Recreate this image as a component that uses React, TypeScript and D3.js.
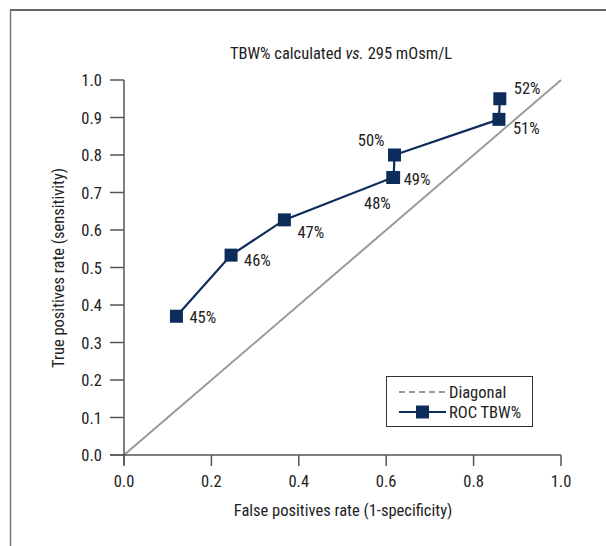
import React from "react";
import * as d3 from "d3";

const fpr = [0.12, 0.245, 0.367, 0.615, 0.617, 0.619, 0.858, 0.86];
const tpr = [0.37, 0.533, 0.627, 0.74, 0.74, 0.8, 0.895, 0.95];
const cutoffs = ["45%", "46%", "47%", "48%", "49%", "50%", "51%", "52%"];
const ticks = [0, 0.1, 0.2, 0.3, 0.4, 0.5, 0.6, 0.7, 0.8, 0.9, 1.0];
const xTicks = [0, 0.2, 0.4, 0.6, 0.8, 1.0];

// label placement offsets (layout only)
const labelOffsets: [number, number, string][] = [
  [13, 7, "start"],
  [13, 11, "start"],
  [13, 18, "start"],
  [-2, 31, "end"],
  [10, 7, "start"],
  [-10, -9, "end"],
  [14, 15, "start"],
  [14, -5, "start"],
];

const FONT = "'Liberation Sans Narrow', 'Arial Narrow', 'Roboto Condensed', sans-serif";
const NAVY = "#0c2d5c";
const AXIS = "#555";
const FS = 16.5;

export default function App() {
  const x = d3.scaleLinear().domain([0, 1]).range([124, 561]);
  const y = d3.scaleLinear().domain([0, 1]).range([455, 80]);
  const line = d3
    .line<number>()
    .x((_, i) => x(fpr[i]))
    .y((_, i) => y(tpr[i]));
  const pathD = line(fpr) || "";
  const fmt = d3.format(".1f");
  const ms = 13;

  return (
    <svg
      width={606}
      height={546}
      style={{ position: "absolute", left: 0, top: 0, background: "#fff" }}
      fontFamily={FONT}
    >
      <rect x={0} y={0} width={606} height={546} fill="#fff" />
      {/* frame */}
      <line x1={10} y1={10} x2={606} y2={10} stroke="#333" strokeWidth={1.5} />
      <line x1={10.5} y1={10} x2={10.5} y2={546} stroke="#777" strokeWidth={1.5} />

      <text x={341} y={59} textAnchor="middle" fontSize={FS} fill="#222">
        TBW% calculated <tspan fontStyle="italic">vs.</tspan> 295 mOsm/L
      </text>

      {/* diagonal */}
      <line x1={x(0)} y1={y(0)} x2={x(1)} y2={y(1)} stroke="#999" strokeWidth={2} />

      {/* axes */}
      <line x1={x(0)} y1={y(1)} x2={x(0)} y2={y(0) + 10} stroke={AXIS} strokeWidth={1.5} />
      <line x1={x(0) - 14} y1={y(0)} x2={x(1)} y2={y(0)} stroke={AXIS} strokeWidth={1.5} />
      {ticks.map((t) => (
        <g key={"y" + t}>
          <line x1={x(0) - 14} x2={x(0)} y1={y(t)} y2={y(t)} stroke={AXIS} strokeWidth={1.5} />
          <text x={102} y={y(t) + 6} textAnchor="end" fontSize={FS} fill="#222">
            {fmt(t)}
          </text>
        </g>
      ))}
      {xTicks.map((t) => (
        <g key={"x" + t}>
          <line x1={x(t)} x2={x(t)} y1={y(0)} y2={y(0) + 11} stroke={AXIS} strokeWidth={1.5} />
          <text x={x(t)} y={487} textAnchor="middle" fontSize={FS} fill="#222">
            {fmt(t)}
          </text>
        </g>
      ))}
      <text x={343} y={516} textAnchor="middle" fontSize={FS} fill="#222">
        False positives rate (1-specificity)
      </text>
      <text
        transform={`translate(64,${268}) rotate(-90)`}
        textAnchor="middle"
        fontSize={FS}
        fill="#222"
      >
        True positives rate (sensitivity)
      </text>

      {/* ROC line */}
      <path d={pathD} fill="none" stroke={NAVY} strokeWidth={2.2} />
      {fpr.map((v, i) => (
        <rect
          key={"m" + i}
          x={x(v) - ms / 2}
          y={y(tpr[i]) - ms / 2}
          width={ms}
          height={ms}
          fill={NAVY}
        />
      ))}
      {cutoffs.map((c, i) => (
        <text
          key={"l" + i}
          x={x(fpr[i]) + labelOffsets[i][0]}
          y={y(tpr[i]) + labelOffsets[i][1]}
          textAnchor={labelOffsets[i][2] as any}
          fontSize={FS}
          fill="#222"
        >
          {c}
        </text>
      ))}

      {/* legend */}
      <rect x={386.5} y={376.5} width={146} height={50} fill="#fff" stroke="#333" strokeWidth={1} />
      <line x1={399} x2={446} y1={392} y2={392} stroke="#999" strokeWidth={2} strokeDasharray="6,4" />
      <text x={449} y={398} fontSize={FS} fill="#222">Diagonal</text>
      <line x1={399} x2={446} y1={412} y2={412} stroke={NAVY} strokeWidth={2.2} />
      <rect x={416} y={405.5} width={13} height={13} fill={NAVY} />
      <text x={449} y={418} fontSize={FS} fill="#222">ROC TBW%</text>
    </svg>
  );
}
